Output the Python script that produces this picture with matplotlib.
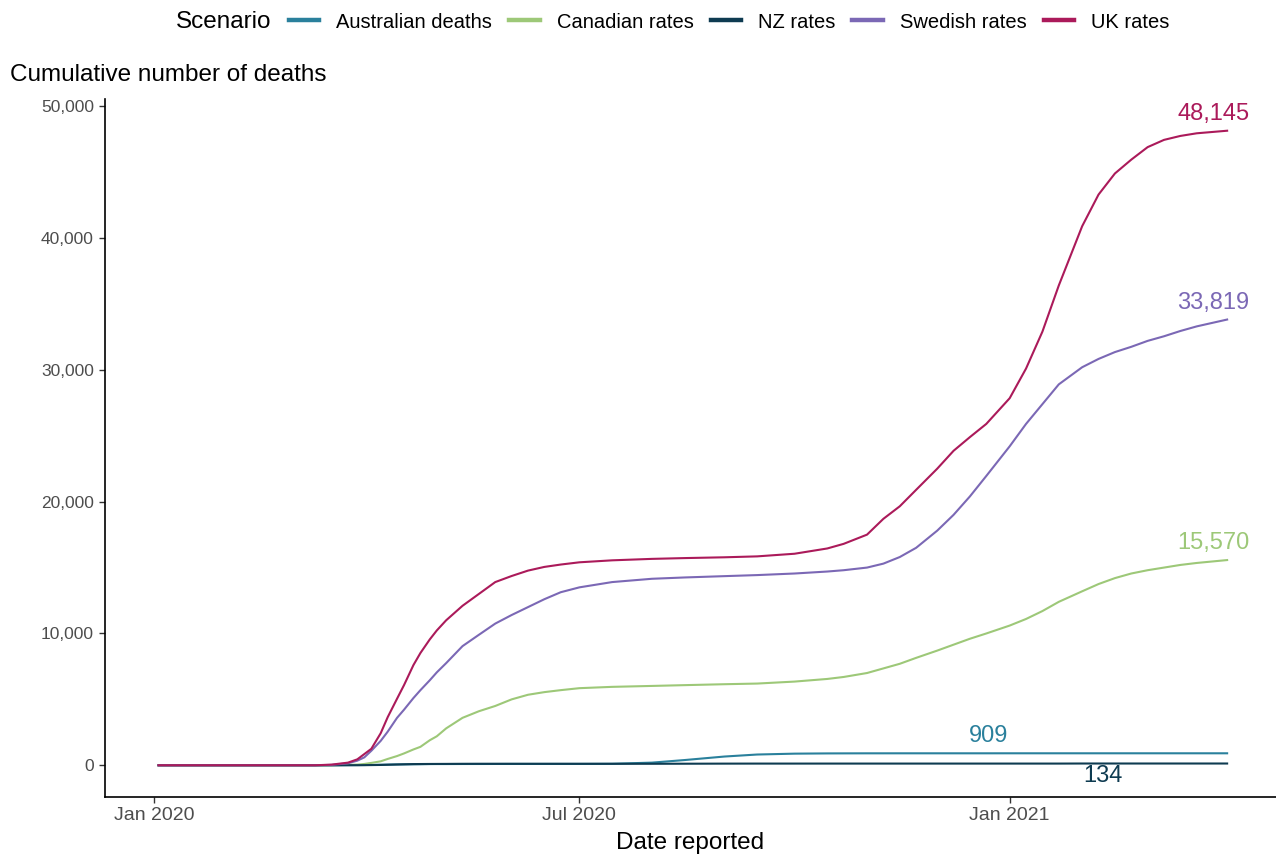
import numpy as np
import pandas as pd
import matplotlib
matplotlib.use("Agg")
import matplotlib.pyplot as plt
import matplotlib.dates as mdates
from matplotlib.lines import Line2D
from matplotlib.ticker import FuncFormatter

plt.rcParams['font.family'] = ['Liberation Sans', 'DejaVu Sans']

dates = pd.to_datetime([
    "2020-01-03", "2020-03-01", "2020-03-10", "2020-03-17", "2020-03-24",
    "2020-03-28", "2020-03-31", "2020-04-03", "2020-04-07", "2020-04-10",
    "2020-04-14", "2020-04-17", "2020-04-21", "2020-04-24", "2020-04-28",
    "2020-05-01", "2020-05-05", "2020-05-12", "2020-05-19", "2020-05-26",
    "2020-06-02", "2020-06-09", "2020-06-16", "2020-06-23", "2020-07-01",
    "2020-07-15", "2020-08-01", "2020-08-15", "2020-09-01", "2020-09-15",
    "2020-10-01", "2020-10-15", "2020-10-22", "2020-11-01", "2020-11-08",
    "2020-11-15", "2020-11-22", "2020-12-01", "2020-12-08", "2020-12-15",
    "2020-12-22", "2021-01-01", "2021-01-08", "2021-01-15", "2021-01-22",
    "2021-02-01", "2021-02-08", "2021-02-15", "2021-02-22", "2021-03-01",
    "2021-03-08", "2021-03-15", "2021-03-22", "2021-04-04",
])

australian = [0, 1, 2, 3, 10, 13, 19, 28, 40, 51,
              63, 65, 75, 79, 90, 93, 93, 97, 98, 100,
              103, 103, 103, 104, 104, 113, 201, 397, 663, 816,
              882, 900, 903, 907, 907, 908, 908, 908, 908, 908,
              908, 909, 909, 909, 909, 909, 909, 909, 909, 909,
              909, 909, 909, 909]
canadian = [0, 0, 0, 5, 30, 50, 100, 180, 300, 480,
            700, 900, 1200, 1400, 1900, 2200, 2800, 3600, 4100, 4500,
            5000, 5350, 5550, 5700, 5850, 5950, 6020, 6080, 6150, 6200,
            6350, 6550, 6700, 7000, 7350, 7700, 8150, 8700, 9150, 9600,
            10000, 10600, 11100, 11700, 12400, 13200, 13750, 14200, 14550, 14800,
            15000, 15200, 15350, 15570]
nz = [0, 0, 0, 0, 5, 7, 10, 15, 25, 40,
      60, 75, 90, 95, 100, 102, 105, 110, 113, 113,
      113, 113, 113, 113, 113, 113, 113, 118, 125, 128,
      128, 129, 129, 129, 129, 129, 129, 129, 129, 129,
      129, 129, 129, 129, 129, 134, 134, 134, 134, 134,
      134, 134, 134, 134]
swedish = [0, 0, 0, 30, 150, 350, 600, 1100, 1850, 2550,
           3600, 4220, 5100, 5700, 6450, 7050, 7750, 9040, 9900, 10750,
           11400, 12000, 12600, 13130, 13500, 13900, 14150, 14250, 14350, 14430,
           14550, 14700, 14800, 15000, 15300, 15800, 16500, 17800, 19000, 20400,
           21950, 24200, 25900, 27400, 28900, 30200, 30830, 31350, 31750, 32200,
           32550, 32950, 33300, 33819]
uk = [0, 0, 0, 50, 200, 450, 850, 1250, 2430, 3650,
      5050, 6090, 7600, 8520, 9550, 10230, 11000, 12100, 13000, 13900,
      14360, 14770, 15050, 15230, 15400, 15550, 15660, 15720, 15780, 15850,
      16050, 16450, 16800, 17500, 18700, 19650, 20900, 22500, 23860, 24900,
      25900, 27850, 30100, 32900, 36400, 40900, 43300, 44900, 45950, 46900,
      47450, 47750, 47950, 48145]

names = ["Australian deaths", "Canadian rates", "NZ rates", "Swedish rates", "UK rates"]
colors = ["#2A809C", "#9DC878", "#0E3B51", "#7B68B5", "#AB1A5A"]
series = [australian, canadian, nz, swedish, uk]

fig = plt.figure(figsize=(12.76, 8.57), dpi=100)
W, H = 1276, 857
ax = fig.add_axes([105 / W, (H - 797) / H, (1276 - 105) / W, (797 - 99) / H])

for vals, col in zip(series, colors):
    ax.plot(dates, vals, color=col, lw=1.5, solid_joinstyle='round')

# end labels
lab_kw = dict(textcoords='offset pixels', ha='center', va='center', fontsize=17)
for vals, col in zip([uk, swedish, canadian], [colors[4], colors[3], colors[1]]):
    ax.annotate(f"{vals[-1]:,}", (dates[-1], vals[-1]), xytext=(-14, 17),
                color=col, **lab_kw)
ax.annotate(f"{australian[-1]:,}", (pd.Timestamp("2020-12-23"), australian[-1]),
            xytext=(0, 17), color=colors[0], **lab_kw)
ax.annotate(f"{nz[-1]:,}", (pd.Timestamp("2021-02-10"), nz[-1]),
            xytext=(0, -12), color=colors[2], **lab_kw)

x0 = pd.Timestamp("2020-01-01")
ax.set_xlim(x0 - pd.Timedelta(days=20.9), x0 + pd.Timedelta(days=479.9))
ax.set_ylim(-2407, 50552)

ax.set_xticks(pd.to_datetime(["2020-01-01", "2020-07-01", "2021-01-01"]))
ax.xaxis.set_major_formatter(mdates.DateFormatter("%b %Y"))
ax.set_yticks([0, 10000, 20000, 30000, 40000, 50000])
ax.yaxis.set_major_formatter(FuncFormatter(lambda v, p: f"{int(v):,}"))

for s in ['top', 'right']:
    ax.spines[s].set_visible(False)
for s in ['left', 'bottom']:
    ax.spines[s].set_linewidth(1.2)
ax.tick_params(axis='both', length=4, width=1, color='#333333', labelcolor='#4D4D4D')
ax.tick_params(axis='y', labelsize=12.5, pad=4)
ax.tick_params(axis='x', labelsize=14, pad=3)

fig.text(10 / W, 1 - 75 / H, "Cumulative number of deaths", fontsize=17.5,
         va='center', ha='left')
fig.text(690 / W, 1 - 843 / H, "Date reported", fontsize=17.5, va='center', ha='center')

fig.text(176 / W, 1 - 22 / H, "Scenario", fontsize=17.5, va='center', ha='left')
handles = [Line2D([], [], color=c, lw=3.2) for c in colors]
fig.legend(handles, names, loc='center left', bbox_to_anchor=(289 / W, 1 - 22 / H),
           ncol=5, frameon=False, fontsize=14.5, handlelength=1.5,
           handletextpad=0.85, columnspacing=0.85, borderpad=0, borderaxespad=0)

fig.savefig("out.png", dpi=100)
